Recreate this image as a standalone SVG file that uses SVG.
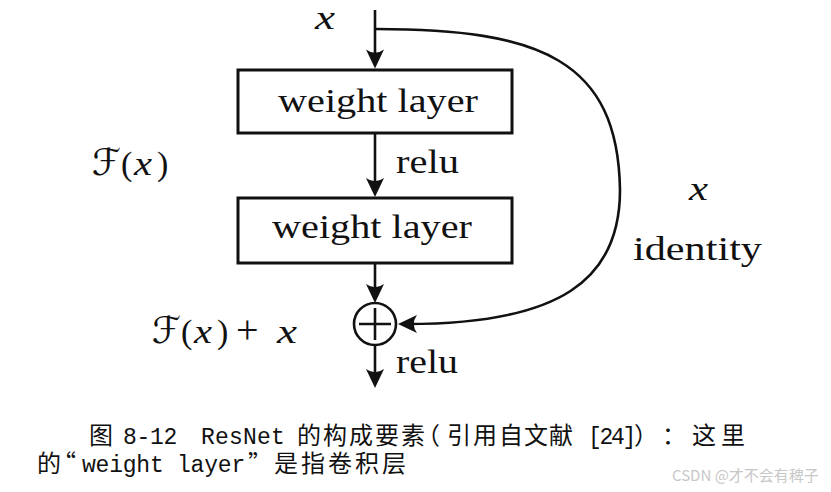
<svg xmlns="http://www.w3.org/2000/svg" width="831" height="492" viewBox="0 0 831 492">
<defs>
<marker id="ah" viewBox="-21 -10 23 20" markerUnits="userSpaceOnUse" markerWidth="23" markerHeight="20" refX="-9" refY="0" orient="auto">
<path d="M0,0 L-19,-9 Q-12.5,0 -19,9 Z" fill="#111"/>
</marker>
<style>
.box{fill:#fff;stroke:#111;stroke-width:3}
.ln{fill:none;stroke:#111;stroke-width:2.6}
.tm{font-family:"Liberation Serif",serif;font-size:34px;fill:#111}
.it{font-style:italic}
.cal{font-family:"DejaVu Serif","DejaVu Sans","Noto Sans",serif;font-style:italic;font-size:37px}
.cap{fill:#111}
.cj{font-family:"Noto Sans CJK SC",sans-serif;font-size:24px}
.mo{font-family:"Liberation Mono",monospace;font-size:23px}
.wm{font-family:"Noto Sans CJK SC",sans-serif;font-size:15px;fill:#c8c8c8}
</style>
</defs>
<rect width="831" height="492" fill="#fff"/>

<g id="connectors">
<path class="ln" d="M375,10 V59.5" marker-end="url(#ah)"/>
<path class="ln" d="M375,133 V188" marker-end="url(#ah)"/>
<path class="ln" d="M375,263 V294" marker-end="url(#ah)"/>
<path class="ln" d="M375,346 V379" marker-end="url(#ah)"/>
<path class="ln" d="M376,29 C540,29 618,60 620,190 C620,280 560,324 407,324" marker-end="url(#ah)"/>
</g>

<g id="layer1">
<rect class="box" x="238" y="70" width="274" height="63"/>
<text class="tm" x="278" y="112" textLength="200" lengthAdjust="spacingAndGlyphs">weight layer</text>
</g>
<g id="layer2">
<rect class="box" x="238" y="198" width="274" height="65"/>
<text class="tm" x="272" y="238" textLength="200" lengthAdjust="spacingAndGlyphs">weight layer</text>
</g>
<g id="add">
<circle cx="375" cy="324" r="21" fill="#fff" stroke="#111" stroke-width="2.6"/>
<path d="M359,324 H391 M375,308 V340" stroke="#111" stroke-width="2.6" fill="none"/>
</g>

<g id="labels">
<text class="tm it" x="315" y="29" font-size="30" textLength="20" lengthAdjust="spacingAndGlyphs">x</text>
<text class="tm" y="175"><tspan class="cal" x="92">ℱ</tspan><tspan x="121">(</tspan><tspan class="it" x="134" textLength="18" lengthAdjust="spacingAndGlyphs">x</tspan><tspan x="157">)</tspan></text>
<text class="tm" x="396" y="173" textLength="63" lengthAdjust="spacingAndGlyphs">relu</text>
<text class="tm it" x="689" y="200" textLength="19" lengthAdjust="spacingAndGlyphs">x</text>
<text class="tm" x="633" y="260" textLength="129" lengthAdjust="spacingAndGlyphs">identity</text>
<text class="tm" y="343"><tspan class="cal" x="152">ℱ</tspan><tspan x="181">(</tspan><tspan class="it" x="194" textLength="18" lengthAdjust="spacingAndGlyphs">x</tspan><tspan x="217">)</tspan><tspan x="236" font-size="40">+</tspan><tspan class="it" x="277" textLength="20" lengthAdjust="spacingAndGlyphs">x</tspan></text>
<text class="tm" x="396" y="373" textLength="62" lengthAdjust="spacingAndGlyphs">relu</text>
</g>

<g id="caption">
<text class="cap" y="444"><tspan class="cj" x="89">图</tspan><tspan class="mo" x="123 136.5 150 163.5">8-12</tspan><tspan class="mo" x="201 215 229 243 257 271">ResNet</tspan><tspan class="cj" x="297 323 349 375 401 416">的构成要素（</tspan><tspan class="cj" x="447 473 499 524 549">引用自文献</tspan><tspan class="mo" x="588 599.5 611 622.5">[24]</tspan><tspan class="cj" x="634 662 692 721">）：这里</tspan></text>
<text class="cap" y="472"><tspan class="cj" x="37 52">的“</tspan><tspan class="mo" x="82 95.6 109.2 122.7 136.3 149.9 163.5 177.1 190.6 204.2 217.8 231.4">weight layer</tspan><tspan class="cj" x="248 274 301 328 355 382">”是指卷积层</tspan></text>
</g>

<text class="wm" x="672" y="481">CSDN @才不会有稗子</text>
</svg>
